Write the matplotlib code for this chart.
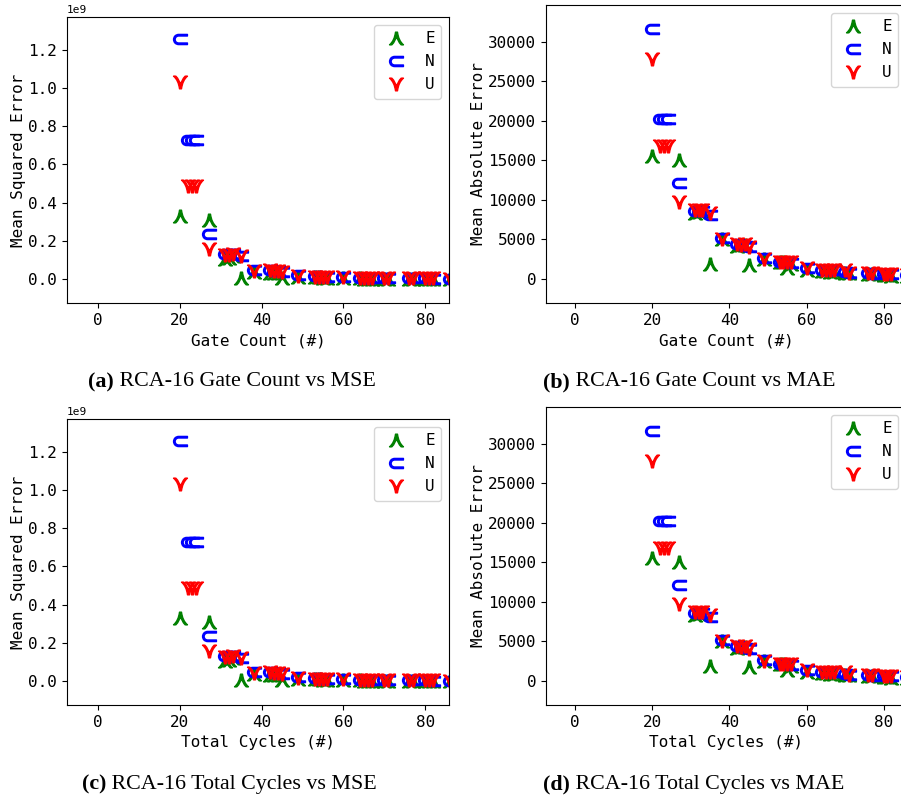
import numpy as np
import matplotlib
matplotlib.use("Agg")
import matplotlib.pyplot as plt

nan = np.nan

# x positions (same design points for gate count and total cycles)
gate_count = [20, 22, 23, 24, 27, 31, 32, 33, 35, 38, 42, 43, 44, 45, 49, 53, 54,
              55, 56, 60, 64, 65, 66, 67, 70, 71, 76, 77, 80, 81, 82, 86]
total_cycles = list(gate_count)

# MSE in units of 1e9 (nan = no E point at that design)
mse_e = [0.33, nan, nan, nan, 0.31, 0.105, 0.11, 0.12, 0.006, 0.035, 0.03, 0.032,
         0.03, 0.004, 0.012, 0.008, 0.008, 0.003, 0.005, 0.003, 0.003, 0.002, 0.002,
         0.002, 0.002, 0.001, 0.001, 0.001, 0.001, 0.001, 0.001, 0.001]
mse_n = [1.26, 0.73, 0.73, 0.73, 0.235, 0.13, 0.13, 0.13, 0.12, 0.045, 0.045, 0.042,
         0.04, 0.035, 0.02, 0.013, 0.012, 0.011, 0.01, 0.008, 0.006, 0.005, 0.005,
         0.005, 0.004, 0.004, 0.003, 0.003, 0.003, 0.003, 0.002, 0.002]
mse_u = [1.03, 0.485, 0.485, 0.485, 0.155, 0.125, 0.125, 0.13, 0.12, 0.043, 0.045,
         0.043, 0.04, 0.035, 0.018, 0.012, 0.012, 0.011, 0.01, 0.008, 0.006, 0.006,
         0.005, 0.005, 0.005, 0.004, 0.003, 0.003, 0.003, 0.003, 0.003, 0.002]

mae_e = [15600, nan, nan, nan, 15000, 8400, 8500, 8600, 1900, 5000, 4200, 4300,
         4300, 1800, 2500, 2100, 2100, 1400, 1900, 1100, 1000, 1000, 900, 900, 800,
         700, 600, 600, 500, 500, 400, 400]
mae_n = [31600, 20200, 20200, 20200, 12200, 8600, 8600, 8600, 8100, 5200, 4400, 4300,
         4200, 4100, 2700, 2200, 2200, 2100, 2000, 1400, 1200, 1100, 1100, 1100, 900,
         800, 700, 650, 600, 600, 600, 500]
mae_u = [27800, 16800, 16800, 16800, 9800, 8700, 8700, 8700, 8300, 5000, 4400, 4300,
         4400, 4000, 2500, 2200, 2200, 2100, 2200, 1400, 1200, 1100, 1100, 1100, 1100,
         800, 700, 700, 600, 600, 600, 500]

labels = ["E", "N", "U"]
markers = [r"$\curlywedge$", r"$\subset$", r"$\curlyvee$"]
colors = ["green", "blue", "red"]

mono = "DejaVu Sans Mono"
serif = "Liberation Serif"
fs = 11.5
cap_fs = 15.8

fig = plt.figure(figsize=(9.01, 8.02), dpi=100)
W, H = 901.0, 802.0


def add_axes(left, right, top, bottom):
    return fig.add_axes([left / W, 1 - bottom / H, (right - left) / W, (bottom - top) / H])


panels = [
    # box (l, r, t, b), x data, series, xlabel, ylabel, ylim, yticks, scale, caption
    ((67, 449, 17, 303), gate_count, (mse_e, mse_n, mse_u), "Gate Count (#)",
     "Mean Squared Error", (-0.126, 1.373), np.arange(0, 1.21, 0.2), 1e9,
     "(a)", "RCA-16 Gate Count vs MSE", 88, 382),
    ((546, 906, 5, 303), gate_count, (mae_e, mae_n, mae_u), "Gate Count (#)",
     "Mean Absolute Error", (-3040, 34680), np.arange(0, 30001, 5000), 1,
     "(b)", "RCA-16 Gate Count vs MAE", 543, 382),
    ((67, 449, 419, 705), total_cycles, (mse_e, mse_n, mse_u), "Total Cycles (#)",
     "Mean Squared Error", (-0.126, 1.373), np.arange(0, 1.21, 0.2), 1e9,
     "(c)", "RCA-16 Total Cycles vs MSE", 82, 784),
    ((546, 906, 407, 705), total_cycles, (mae_e, mae_n, mae_u), "Total Cycles (#)",
     "Mean Absolute Error", (-3040, 34680), np.arange(0, 30001, 5000), 1,
     "(d)", "RCA-16 Total Cycles vs MAE", 543, 784),
]

for box, xs, series, xlabel, ylabel, ylim, yticks, scale, tag, cap, cx, cy in panels:
    ax = add_axes(*box)
    for vals, lab, mk, col in zip(series, labels, markers, colors):
        ax.plot(xs, np.array(vals) * scale, linestyle="none", marker=mk,
                markersize=10, color=col, label=lab)
    ax.set_xlim(-7.6, 85.8)
    ax.set_ylim(ylim[0] * scale, ylim[1] * scale)
    ax.set_xticks([0, 20, 40, 60, 80])
    ax.set_yticks(yticks * scale)
    ax.set_xlabel(xlabel, fontfamily=mono, fontsize=fs)
    ax.set_ylabel(ylabel, fontfamily=mono, fontsize=fs, labelpad=1.5)
    for t in ax.get_xticklabels() + ax.get_yticklabels():
        t.set_fontfamily(mono)
        t.set_fontsize(fs)
    ax.yaxis.get_offset_text().set_fontfamily(mono)
    ax.yaxis.get_offset_text().set_fontsize(8)
    ax.legend(loc="upper right", prop={"family": mono, "size": fs})
    # caption below the panel: bold tag, then regular text
    t = fig.text(cx / W, 1 - cy / H, tag, fontfamily=serif, fontweight="bold",
                 fontsize=cap_fs, ha="left", va="center")
    ax.annotate(" " + cap, xy=(1, 0.5), xycoords=t, ha="left", va="center",
                fontfamily=serif, fontsize=cap_fs, annotation_clip=False)

fig.savefig("out.png", dpi=100)
